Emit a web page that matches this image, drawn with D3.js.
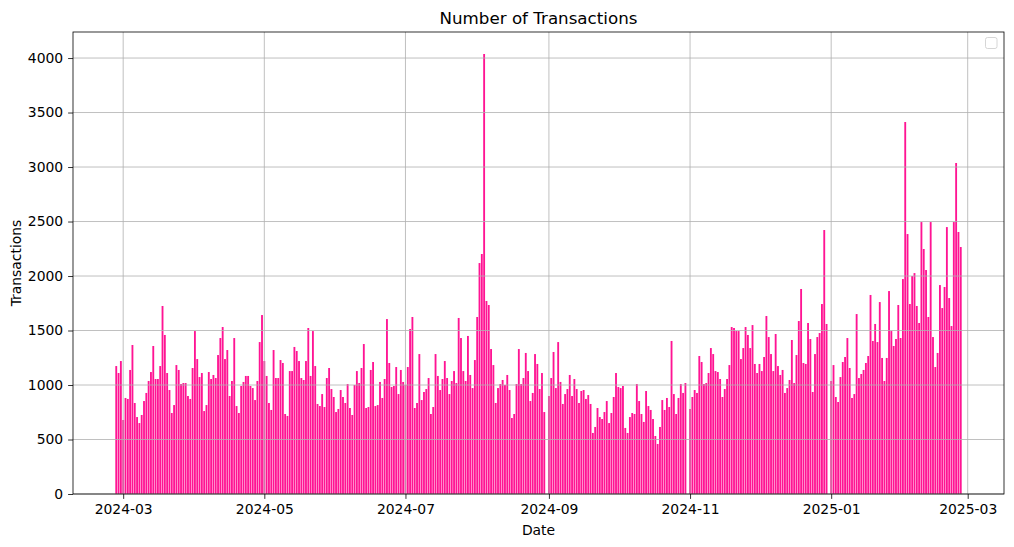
<!DOCTYPE html>
<html>
<head>
<meta charset="utf-8">
<script src="https://cdn.jsdelivr.net/npm/d3@7"></script>
<style>
  html, body { margin: 0; padding: 0; background: #fff; }
  svg { display: block; font-family: "DejaVu Sans", sans-serif; }
</style>
</head>
<body>
<svg id="chart" width="1014" height="547"></svg>
<script>
// ---- data ----
const startDate = "2024-02-27";
const endDate = "2025-02-26";
// daily transactions (null = no bar that day)
const transactions = [
  1174,1110,1220,679,881,872,1138,1367,835,706,651,725,853,927,1037,1119,1358,1055,1055,1174,1725,1459,1110,954,743,816,1183,1138,1009,1018,1018,899,872,1156,1495,1238,
  1073,1110,761,816,1119,1055,1092,1064,1275,1431,1532,1238,1321,899,1037,1431,807,743,991,1028,1083,1083,991,972,862,1037,1394,1642,1220,1083,835,771,1321,1064,1064,1229,1202,734,
  716,1128,1128,1349,1312,1220,1064,1046,1220,1523,1083,1495,1174,826,807,917,798,1064,1156,963,890,752,780,954,890,835,1009,789,725,1000,1128,1018,1156,1376,789,798,1138,
  1211,807,816,1028,881,1055,1605,1202,982,991,1165,917,1138,1028,1000,1165,1514,1624,789,835,1284,862,936,963,1064,734,798,1284,1083,954,1055,1220,1064,917,1037,1128,1018,
  1615,1431,1128,1037,1450,1092,972,1229,1624,2119,2202,4037,1771,1734,1330,1183,835,972,1009,1046,1000,1092,954,697,734,1009,1330,1009,1064,1294,1128,853,927,1284,1193,963,1110,
  752,null,899,1064,1303,972,1394,1028,826,917,963,1092,899,1055,963,835,945,954,872,908,826,560,615,789,706,688,752,853,651,743,890,1110,982,972,991,606,560,
  706,743,734,1009,853,734,661,945,807,771,688,532,459,615,862,771,881,798,1404,917,734,881,1009,927,1018,null,780,890,954,927,1266,1211,1009,1018,1110,1339,1284,1128,
  1119,1055,890,963,1055,1183,1532,1523,1495,1495,1238,1339,1532,1459,1339,1550,1193,1110,1193,1128,1257,1633,1440,1284,1128,1468,1174,1092,1138,927,972,1046,1413,1018,1275,1587,1881,
  1202,1193,1569,1422,936,1284,1440,1477,1743,2422,1560,null,1037,1183,890,844,1073,1211,1257,1431,1156,881,917,1651,1064,1101,1138,1202,1266,1826,1404,1560,1394,1761,1248,1037,1248,
  1862,1495,1358,1422,1734,1431,1972,3413,2385,1743,2000,2027,1725,1569,2495,2248,2055,1624,2495,1440,1165,1294,1917,1706,1899,2449,1798,1541,2495,3037,2404,2266
];
const xTickLabels = ["2024-03","2024-05","2024-07","2024-09","2024-11","2025-01","2025-03"];
const yTickValues = [0,500,1000,1500,2000,2500,3000,3500,4000];
const titleText = "Number of Transactions";
const xLabelText = "Date";
const yLabelText = "Transactions";

// ---- build table ----
const parseDay = d3.utcParse("%Y-%m-%d");
const parseMonth = d3.utcParse("%Y-%m");
const days = d3.utcDay.range(parseDay(startDate), d3.utcDay.offset(parseDay(endDate), 1));
const data = days.map((d, i) => ({ date: d, value: transactions[i] }))
                 .filter(d => d.value != null);

// ---- layout ----
const W = 1014, H = 547;
const margin = { left: 73, right: 10, top: 32, bottom: 53 };
const plotW = W - margin.left - margin.right;
const plotH = H - margin.top - margin.bottom;
const DAY = 86400000;
const halfBar = 0.4 * DAY;

const svg = d3.select("#chart");
const g = svg.append("g").attr("transform", `translate(${margin.left},${margin.top})`);

// x domain like matplotlib: bar extents + 5% margins
const x0 = +days[0] - halfBar, x1 = +days[days.length - 1] + halfBar;
const pad = (x1 - x0) * 0.05;
const x = d3.scaleUtc().domain([new Date(x0 - pad), new Date(x1 + pad)]).range([0, plotW]);
const yMax = d3.max(data, d => d.value) * 1.05;
const y = d3.scaleLinear().domain([0, yMax]).range([plotH, 0]);

// bars
g.append("g").selectAll("rect").data(data).join("rect")
  .attr("x", d => x(new Date(+d.date - halfBar)))
  .attr("width", d => x(new Date(+d.date + halfBar)) - x(new Date(+d.date - halfBar)))
  .attr("y", d => y(d.value))
  .attr("height", d => y(0) - y(d.value))
  .attr("fill", "#ff1493");

// grid (drawn above bars, like matplotlib default)
const xTicks = xTickLabels.map(s => parseMonth(s));
const grid = g.append("g").attr("stroke", "#b0b0b0").attr("stroke-width", 0.8);
grid.selectAll("line.gx").data(xTicks).join("line")
  .attr("x1", d => x(d)).attr("x2", d => x(d)).attr("y1", 0).attr("y2", plotH);
grid.selectAll("line.gy").data(yTickValues).join("line")
  .attr("x1", 0).attr("x2", plotW).attr("y1", d => y(d)).attr("y2", d => y(d));

// axes
const xAxis = d3.axisBottom(x).tickValues(xTicks).tickFormat(d3.utcFormat("%Y-%m"))
  .tickSizeInner(4.9).tickSizeOuter(0).tickPadding(4.9);
const yAxis = d3.axisLeft(y).tickValues(yTickValues).tickFormat(d3.format("d"))
  .tickSizeInner(4.9).tickSizeOuter(0).tickPadding(4.9);

const gx = g.append("g").attr("transform", `translate(0,${plotH})`).call(xAxis);
const gy = g.append("g").call(yAxis);
[gx, gy].forEach(a => {
  a.select(".domain").remove();
  a.selectAll(".tick line").attr("stroke", "#000").attr("stroke-width", 0.8);
  a.selectAll(".tick text").attr("fill", "#000").style("font-size", "13.9px")
    .style("font-family", "'DejaVu Sans', sans-serif");
});

// spines
g.append("rect").attr("x", 0).attr("y", 0).attr("width", plotW).attr("height", plotH)
  .attr("fill", "none").attr("stroke", "#000").attr("stroke-width", 0.8);

// empty legend box (upper right)
g.append("rect").attr("x", plotW - 18.5).attr("y", 5.5).attr("width", 11.5).attr("height", 11)
  .attr("rx", 2).attr("fill", "#fff").attr("fill-opacity", 0.8)
  .attr("stroke", "#cccccc").attr("stroke-width", 0.8);

// title and labels
svg.append("text").attr("x", margin.left + plotW / 2).attr("y", 24)
  .attr("text-anchor", "middle").style("font-size", "16.7px").text(titleText);
svg.append("text").attr("x", margin.left + plotW / 2).attr("y", 535)
  .attr("text-anchor", "middle").style("font-size", "13.9px").text(xLabelText);
svg.append("text").attr("transform", `translate(21,${margin.top + plotH / 2}) rotate(-90)`)
  .attr("text-anchor", "middle").style("font-size", "13.9px").text(yLabelText);
</script>
</body>
</html>
